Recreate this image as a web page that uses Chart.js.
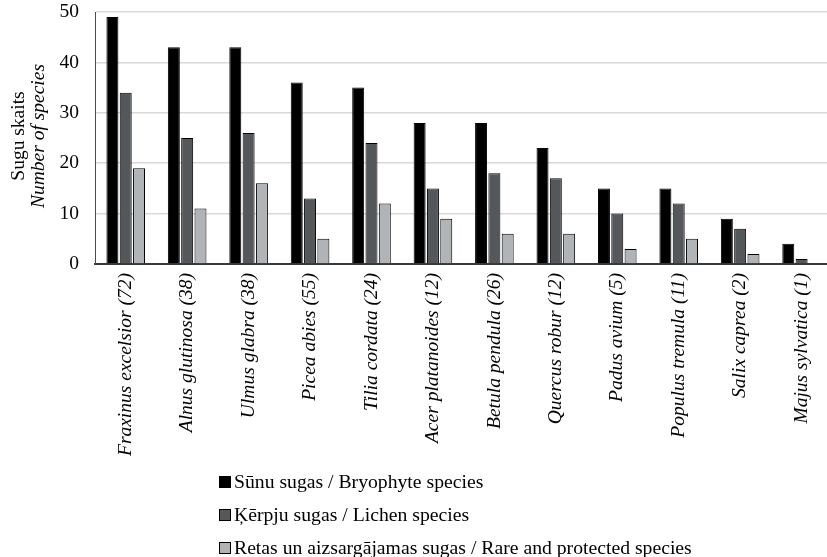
<!DOCTYPE html>
<html>
<head>
<meta charset="utf-8">
<script src="https://cdn.jsdelivr.net/npm/chart.js@4.4.1/dist/chart.umd.min.js"></script>
<style>
  html, body { margin: 0; padding: 0; background: #fff; overflow: hidden; }
  #wrap { position: relative; width: 834px; height: 557px; }
  #legend { position: absolute; left: 219px; top: 465px; font-family: "Liberation Serif", "Times New Roman", serif; font-size: 19.7px; color: #000; }
  .item { height: 33px; line-height: 33px; white-space: nowrap; display: flex; align-items: center; }
  .box { display: inline-block; width: 10px; height: 10px; border: 1px solid #000; margin-right: 3px; }
</style>
</head>
<body>
<div id="wrap">
  <canvas id="c" width="834" height="557"></canvas>
  <div id="legend"></div>
</div>
<script>
const categories = [
  "Fraxinus excelsior (72)", "Alnus glutinosa (38)", "Ulmus glabra (38)", "Picea abies (55)",
  "Tilia cordata (24)", "Acer platanoides (12)", "Betula pendula (26)", "Quercus robur (12)",
  "Padus avium (5)", "Populus tremula (11)", "Salix caprea (2)", "Majus sylvatica (1)"
];
const bryophytes = [49, 43, 43, 36, 35, 28, 28, 23, 15, 15, 9, 4];
const lichens    = [34, 25, 26, 13, 24, 15, 18, 17, 10, 12, 7, 1];
const rare       = [19, 11, 16, 5, 12, 9, 6, 6, 3, 5, 2, 0];
const seriesLabels = [
  "Sūnu sugas / Bryophyte species",
  "Ķērpju sugas / Lichen species",
  "Retas un aizsargājamas sugas / Rare and protected species"
];
const yTicks = [0, 10, 20, 30, 40, 50];
const yTitle1 = "Sugu skaits";
const yTitle2 = "Number of species";

const colors = ["#000000", "#54585b", "#b1b4b7"];
const FONT = "'Liberation Serif', 'Times New Roman', serif";

const yTitlePlugin = {
  id: 'yTitle',
  afterDraw(chart) {
    const ctx = chart.ctx;
    const area = chart.chartArea;
    const cy = (area.top + area.bottom) / 2 - 2;
    ctx.save();
    ctx.fillStyle = '#000';
    ctx.textAlign = 'center';
    ctx.textBaseline = 'middle';
    ctx.translate(19, cy);
    ctx.rotate(-Math.PI / 2);
    ctx.font = "19.5px " + FONT;
    ctx.fillText(yTitle1, 0, 0);
    ctx.restore();
    ctx.save();
    ctx.fillStyle = '#000';
    ctx.textAlign = 'center';
    ctx.textBaseline = 'middle';
    ctx.translate(39, cy);
    ctx.rotate(-Math.PI / 2);
    ctx.font = "italic 19.5px " + FONT;
    ctx.fillText(yTitle2, 0, 0);
    ctx.restore();
  }
};

const dataSets = [bryophytes, lichens, rare].map((d, i) => ({
  label: seriesLabels[i],
  data: d,
  backgroundColor: colors[i],
  borderColor: '#000',
  borderWidth: 1,
  categoryPercentage: 0.65,
  barPercentage: 0.9
}));

const chart = new Chart(document.getElementById('c'), {
  type: 'bar',
  data: { labels: categories, datasets: dataSets },
  options: {
    responsive: false,
    animation: false,
    devicePixelRatio: 1,
    layout: { padding: { left: 45, top: 0, right: 0, bottom: 0 } },
    plugins: { legend: { display: false }, tooltip: { enabled: false } },
    scales: {
      x: {
        grid: { display: false, drawTicks: false },
        border: { color: '#3a3a3a', width: 2 },
        ticks: {
          minRotation: 90, maxRotation: 90, padding: 9, autoSkip: false,
          color: '#000',
          font: { family: FONT, size: 19.5, style: 'italic' }
        },
        afterFit(s) { s.height = 293; }
      },
      y: {
        min: 0, max: 50,
        afterBuildTicks(s) { s.ticks = yTicks.map(v => ({ value: v })); },
        grid: { color: '#d9d9d9', lineWidth: 1.5, drawTicks: false },
        border: { color: '#4a4a4a', width: 1 },
        ticks: {
          padding: 16, color: '#000',
          font: { family: FONT, size: 19.5 }
        },
        afterFit(s) { s.width = 50; s.paddingTop = 12; s.paddingBottom = 0; }
      }
    }
  },
  plugins: [yTitlePlugin]
});

const leg = document.getElementById('legend');
chart.data.datasets.forEach(ds => {
  const row = document.createElement('div');
  row.className = 'item';
  const b = document.createElement('span');
  b.className = 'box';
  b.style.background = ds.backgroundColor;
  row.appendChild(b);
  row.appendChild(document.createTextNode(ds.label));
  leg.appendChild(row);
});
</script>
</body>
</html>
